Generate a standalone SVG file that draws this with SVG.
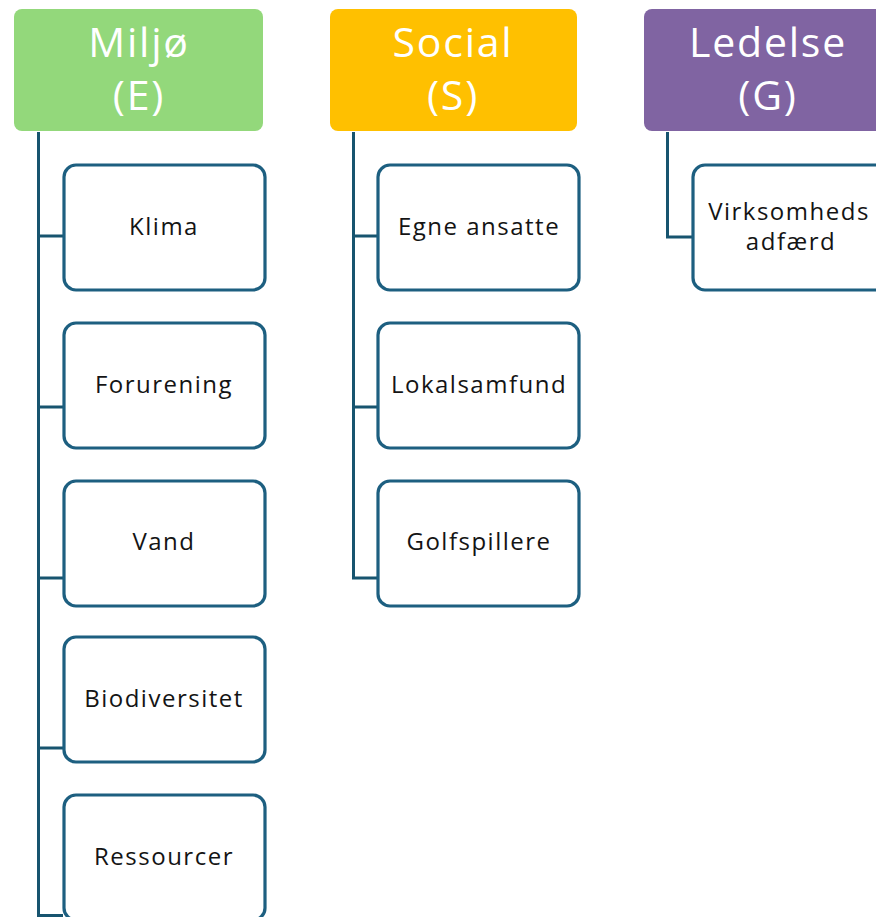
<svg xmlns="http://www.w3.org/2000/svg" width="876" height="917" viewBox="0 0 876 917">
<style>
.hdr{stroke:none}
.htxt{font-family:"Open Sans","Liberation Sans",sans-serif;font-size:41px;fill:#ffffff;text-anchor:middle;letter-spacing:1.8px}
.box{fill:#ffffff;stroke:#1D5F80;stroke-width:3.2}
.btxt{font-family:"Open Sans","Liberation Sans",sans-serif;font-size:24px;fill:#141414;text-anchor:middle;letter-spacing:1.5px}
.conn{fill:none;stroke:#17546F;stroke-width:3}
</style>
<rect width="876" height="917" fill="#ffffff"/>
<g id="connectors">
<path class="conn" d="M38.5,132 V917 M38.5,236 H63 M38.5,407 H63 M38.5,578 H63 M38.5,748 H63 M38.5,915.5 H63"/>
<path class="conn" d="M353.5,132 V578 H377 M353.5,236 H377 M353.5,407 H377"/>
<path class="conn" d="M667.5,132 V237 H692"/>
</g>
<g id="miljo">
<rect class="hdr" x="14" y="9" width="249" height="122" rx="8" fill="#93D87B"/>
<text class="htxt" x="139" y="57">Miljø</text>
<text class="htxt" x="139" y="110">(E)</text>
</g>
<g id="social">
<rect class="hdr" x="330" y="9" width="247" height="122" rx="8" fill="#FFC000"/>
<text class="htxt" x="453" y="57">Social</text>
<text class="htxt" x="453" y="110">(S)</text>
</g>
<g id="ledelse">
<rect class="hdr" x="644" y="9" width="249" height="122" rx="8" fill="#8064A2"/>
<text class="htxt" x="768" y="57">Ledelse</text>
<text class="htxt" x="768" y="110">(G)</text>
</g>
<g id="klima">
<rect class="box" x="64" y="165" width="201" height="125" rx="12"/>
<text class="btxt" x="164" y="235">Klima</text>
</g>
<g id="forurening">
<rect class="box" x="64" y="323" width="201" height="125" rx="12"/>
<text class="btxt" x="164" y="393">Forurening</text>
</g>
<g id="vand">
<rect class="box" x="64" y="481" width="201" height="125" rx="12"/>
<text class="btxt" x="164" y="550">Vand</text>
</g>
<g id="biodiversitet">
<rect class="box" x="64" y="637" width="201" height="125" rx="12"/>
<text class="btxt" x="164" y="707">Biodiversitet</text>
</g>
<g id="ressourcer">
<rect class="box" x="64" y="795" width="201" height="125" rx="12"/>
<text class="btxt" x="164" y="865">Ressourcer</text>
</g>
<g id="egne-ansatte">
<rect class="box" x="378" y="165" width="201" height="125" rx="12"/>
<text class="btxt" x="479" y="235">Egne ansatte</text>
</g>
<g id="lokalsamfund">
<rect class="box" x="378" y="323" width="201" height="125" rx="12"/>
<text class="btxt" x="479" y="393">Lokalsamfund</text>
</g>
<g id="golfspillere">
<rect class="box" x="378" y="481" width="201" height="125" rx="12"/>
<text class="btxt" x="479" y="550">Golfspillere</text>
</g>
<g id="virksomhedsadfaerd">
<rect class="box" x="693" y="165" width="201" height="125" rx="12"/>
<text class="btxt" x="789" y="220">Virksomheds</text>
<text class="btxt" x="791" y="250">adfærd</text>
</g>
</svg>
